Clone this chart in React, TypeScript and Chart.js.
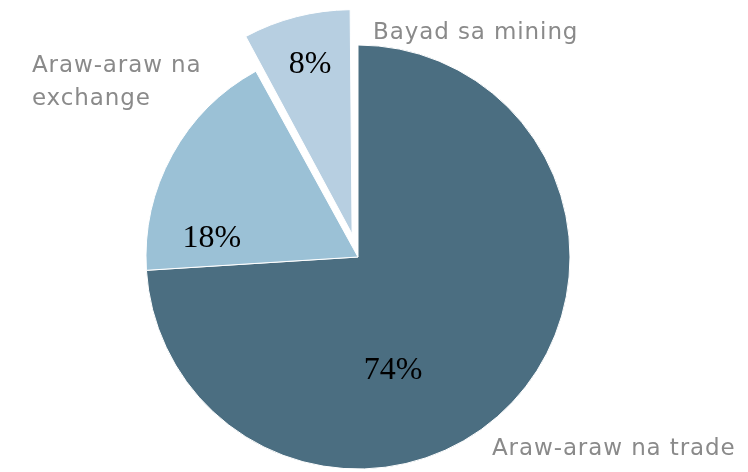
import React, { useEffect, useRef } from "react";
import { Chart, registerables } from "chart.js";

Chart.register(...registerables);

const categories = ["Araw-araw na trade", "Araw-araw na exchange", "Bayad sa mining"];
const values = [74, 18, 8];
const percentLabels = ["74%", "18%", "8%"];
const nameLabels = [["Araw-araw na trade"], ["Araw-araw na", "exchange"], ["Bayad sa mining"]];
const colors = ["#4b6e81", "#9bc1d6", "#b7cfe1"];
const offsets = [0, 0, 95];

// label anchors relative to pie centre, in units of radius
const pctAnchor = [
  [0.165, 0.575],
  [-0.689, -0.047],
  [-0.226, -0.868],
];
const nameAnchor = [
  [0.632, 0.934],
  [-1.538, -0.873],
  [0.071, -1.028],
];

const labelPlugin = {
  id: "labelPlugin",
  afterDatasetsDraw(chart: any) {
    const meta = chart.getDatasetMeta(0);
    const ctx = chart.ctx;
    ctx.save();
    meta.data.forEach((arc: any, i: number) => {
      const { x, y, outerRadius } = arc.getProps(["x", "y", "outerRadius"], true);
      const r = outerRadius;
      ctx.fillStyle = "#000000";
      ctx.font = "32px 'Liberation Serif'";
      ctx.textAlign = "center";
      ctx.textBaseline = "alphabetic";
      (ctx as any).letterSpacing = "0px";
      ctx.fillText(percentLabels[i], x + pctAnchor[i][0] * r, y + pctAnchor[i][1] * r);

      ctx.fillStyle = "#8a8a8a";
      ctx.font = "23px 'DejaVu Sans'";
      ctx.textAlign = "left";
      (ctx as any).letterSpacing = "0.9px";
      nameLabels[i].forEach((line, k) => {
        ctx.fillText(line, x + nameAnchor[i][0] * r, y + nameAnchor[i][1] * r + k * 33);
      });
    });
    ctx.restore();
  },
};

export default function App() {
  const ref = useRef<HTMLCanvasElement>(null);
  useEffect(() => {
    if (!ref.current) return;
    const chart = new Chart(ref.current, {
      type: "pie",
      data: {
        labels: categories,
        datasets: [
          {
            data: values,
            backgroundColor: colors,
            borderColor: "#ffffff",
            borderWidth: 1,
            offset: offsets,
          },
        ],
      },
      options: {
        animation: false,
        responsive: false,
        radius: 212,
        layout: { padding: { top: 42, bottom: 0, left: 0, right: 32 } },
        plugins: { legend: { display: false }, tooltip: { enabled: false } },
      } as any,
      plugins: [labelPlugin],
    });
    return () => chart.destroy();
  }, []);
  return (
    <div style={{ position: "absolute", left: 0, top: 0, width: 748, height: 472, background: "#fff" }}>
      <canvas ref={ref} width={748} height={472} style={{ width: 748, height: 472 }} />
    </div>
  );
}
